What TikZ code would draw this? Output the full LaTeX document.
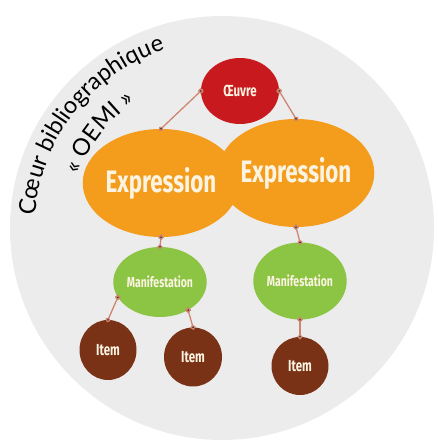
\documentclass[tikz,border=0pt]{standalone}
\usepackage{fontspec}
\usetikzlibrary{shapes.geometric,arrows.meta,decorations.text}
\newfontfamily\labelfont[FakeStretch=0.72]{Fira Sans}
\newfontfamily\arcfont{Lato}
\definecolor{bgcircle}{RGB}{236,236,236}
\definecolor{oeuvrered}{RGB}{200,26,30}
\definecolor{exprorange}{RGB}{244,156,28}
\definecolor{manifgreen}{RGB}{140,196,68}
\definecolor{itembrown}{RGB}{122,50,22}
\definecolor{linkpink}{RGB}{206,134,112}
\definecolor{labelcream}{RGB}{252,244,226}

\begin{document}
\begin{tikzpicture}[x=1pt,y=1pt,
	entity/.style={shape=ellipse,inner sep=0pt,text=labelcream},
	link/.style={draw=linkpink,line width=1.3pt,{Circle[length=5pt]}-{Circle[length=5pt]},shorten <=-2.5pt,shorten >=-2.5pt}]
	
	\useasboundingbox (0,0) rectangle (438,444);
	\fill[bgcircle] (222,216) circle (212);
	
	% titre courbe
	\path[decorate,decoration={text along path,text align=center,
		text={|\arcfont\fontsize{23.5}{23.5}\selectfont|Cœur bibliographique}}]
		(222,216) ++(182:187) arc[start angle=182,end angle=102,radius=187];
	\path[decorate,decoration={text along path,text align=center,
		text={|\arcfont\fontsize{23.5}{23.5}\selectfont|« OEMI »}}]
		(222,216) ++(182:153) arc[start angle=182,end angle=102,radius=153];
	
	\node[entity,fill=oeuvrered,minimum width=78,minimum height=66,font=\labelfont\bfseries\fontsize{16}{16}\selectfont] (oeuvre) at (240, 353) {Œuvre};
	\node[entity,fill=exprorange,minimum width=134,minimum height=108,font=\labelfont\bfseries\fontsize{31}{31}\selectfont] (exprL) at (161, 261) {Expression};
	\node[entity,fill=exprorange,minimum width=134,minimum height=108,font=\labelfont\bfseries\fontsize{31}{31}\selectfont] (exprR) at (296, 271) {Expression};
	\node[entity,fill=manifgreen,minimum width=74,minimum height=70,font=\labelfont\bfseries\fontsize{14.5}{14.5}\selectfont] (manifL) at (160, 162) {Manifestation};
	\node[entity,fill=manifgreen,minimum width=85,minimum height=77,font=\labelfont\bfseries\fontsize{14.5}{14.5}\selectfont] (manifR) at (300, 163) {Manifestation};
	\node[entity,fill=itembrown,minimum width=57,minimum height=60,font=\labelfont\bfseries\fontsize{16}{16}\selectfont] (itemA) at (108, 94) {Item};
	\node[entity,fill=itembrown,minimum width=58,minimum height=59,font=\labelfont\bfseries\fontsize{16}{16}\selectfont] (itemB) at (193, 87) {Item};
	\node[entity,fill=itembrown,minimum width=57,minimum height=58,font=\labelfont\bfseries\fontsize{16}{16}\selectfont] (itemC) at (300, 78) {Item};
	
	\path[link] (oeuvre.west) edge (exprL.north);
	\path[link] (oeuvre.east) edge (exprR.north);
	\path[link] (exprL.south) edge (manifL.north);
	\path[link] (exprR.south) edge (manifR.north);
	\path[link] (manifL.200) edge (itemA.north);
	\path[link] (manifL.-45) edge (itemB.north);
	\path[link] (manifR.south) edge (itemC.north);
\end{tikzpicture}
\end{document}
